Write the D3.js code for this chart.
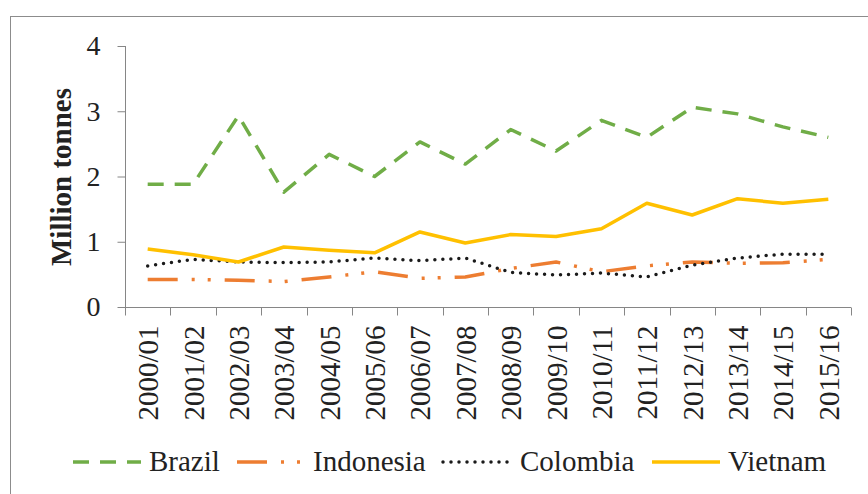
<!DOCTYPE html>
<html>
<head>
<meta charset="utf-8">
<script src="https://cdn.jsdelivr.net/npm/d3@7"></script>
<style>
  html, body { margin: 0; padding: 0; background: #fff; }
  svg { display: block; }
  svg text { font-family: "Liberation Serif", "Times New Roman", Times, serif !important; fill: #222; }
</style>
</head>
<body>
<svg id="chart" width="868" height="494"></svg>
<script>
const categories = ["2000/01","2001/02","2002/03","2003/04","2004/05","2005/06","2006/07","2007/08",
                    "2008/09","2009/10","2010/11","2011/12","2012/13","2013/14","2014/15","2015/16"];
const brazil    = [1.88, 1.88, 2.93, 1.76, 2.34, 2.00, 2.53, 2.19, 2.72, 2.39, 2.86, 2.60, 3.06, 2.96, 2.76, 2.60];
const indonesia = [0.42, 0.42, 0.41, 0.39, 0.46, 0.54, 0.44, 0.46, 0.59, 0.69, 0.54, 0.63, 0.69, 0.67, 0.68, 0.73];
const colombia  = [0.63, 0.73, 0.69, 0.68, 0.69, 0.75, 0.71, 0.75, 0.53, 0.49, 0.52, 0.46, 0.64, 0.75, 0.81, 0.81];
const vietnam   = [0.89, 0.80, 0.69, 0.92, 0.87, 0.83, 1.15, 0.98, 1.11, 1.08, 1.20, 1.59, 1.41, 1.66, 1.59, 1.65];
const yTicks = [0, 1, 2, 3, 4];
const seriesNames = ["Brazil", "Indonesia", "Colombia", "Vietnam"];

const series = [
  {name: seriesNames[0], values: brazil,    color: "#70AD47", width: 3.5, dash: "16,11", cap: "butt"},
  {name: seriesNames[1], values: indonesia, color: "#ED7D31", width: 3.5, dash: "30,14,3,13,3,14", cap: "butt"},
  {name: seriesNames[2], values: colombia,  color: "#1a1a1a", width: 3.5, dash: "0,8", cap: "round"},
  {name: seriesNames[3], values: vietnam,   color: "#FFC000", width: 3.5, dash: null, cap: "butt"}
];

const serif = "'Liberation Serif', 'Times New Roman', Times, serif";
const svg = d3.select("#chart");
const axisColor = "#868686";

// outer chart border (extends beyond the viewport on right and bottom)
svg.append("rect").attr("x", 10.5).attr("y", 16.5).attr("width", 900).attr("height", 500)
  .attr("fill", "none").attr("stroke", "#8c8c8c").attr("stroke-width", 1);

const x = d3.scaleBand().domain(categories).range([125, 851]).padding(0);
const y = d3.scaleLinear().domain([0, 4]).range([307, 46]);

// Y axis
const yAxis = d3.axisLeft(y).tickValues(yTicks).tickSize(8).tickPadding(17).tickFormat(d3.format("d"));
const gy = svg.append("g").attr("transform", "translate(125.5,0)").call(yAxis);
gy.attr("font-family", null);
gy.select(".domain").attr("stroke", axisColor).attr("d", "M0," + y(4) + "V" + 315);
gy.selectAll(".tick line").attr("stroke", axisColor);
gy.selectAll(".tick text").attr("font-size", 28).attr("fill", "#222").style("font-family", serif);

// X axis
const xAxis = d3.axisBottom(x).tickSize(0).tickFormat(d => d);
const gx = svg.append("g").attr("transform", "translate(0,307.5)").call(xAxis);
gx.attr("font-family", null);
gx.select(".domain").attr("stroke", axisColor).attr("d", "M125,0H851");
const bounds = categories.map(c => x(c)).concat([x.range()[1]]);
gx.selectAll(".bound").data(bounds).enter().append("line")
  .attr("class", "bound")
  .attr("x1", d => Math.round(d) + 0.5).attr("x2", d => Math.round(d) + 0.5)
  .attr("y1", 0).attr("y2", 8).attr("stroke", axisColor);
gx.selectAll(".tick text")
  .attr("font-size", 29).attr("fill", "#222").style("font-family", serif)
  .attr("text-anchor", "end")
  .attr("transform", "rotate(-90)")
  .attr("x", -18).attr("y", 0).attr("dy", "0.36em");

// Y axis title
svg.append("text")
  .attr("transform", "translate(71,177) rotate(-90)")
  .attr("text-anchor", "middle")
  .attr("font-size", 29).attr("font-weight", "bold")
  .style("font-family", serif)
  .text("Million tonnes");

// lines
const line = d3.line()
  .x((d, i) => x(categories[i]) + x.bandwidth() / 2)
  .y(d => y(d));

series.forEach(s => {
  svg.append("path")
    .datum(s.values)
    .attr("d", line)
    .attr("fill", "none")
    .attr("stroke", s.color)
    .attr("stroke-width", s.width)
    .attr("stroke-dasharray", s.dash)
    .attr("stroke-linecap", s.cap)
    .attr("stroke-linejoin", "round");
});

// legend
const legendLineX = [73, 237, 443, 652];
const legendY = 462;
series.forEach((s, i) => {
  const g = svg.append("g");
  g.append("line")
    .attr("x1", legendLineX[i]).attr("x2", legendLineX[i] + (i === 2 ? 70 : 68))
    .attr("y1", legendY).attr("y2", legendY)
    .attr("stroke", s.color).attr("stroke-width", s.width)
    .attr("stroke-dasharray", s.dash).attr("stroke-linecap", s.cap);
  g.append("text")
    .attr("x", legendLineX[i] + (i === 2 ? 77 : 76)).attr("y", legendY + 9)
    .attr("font-size", 29)
    .style("font-family", serif)
    .text(s.name);
});
</script>
</body>
</html>
